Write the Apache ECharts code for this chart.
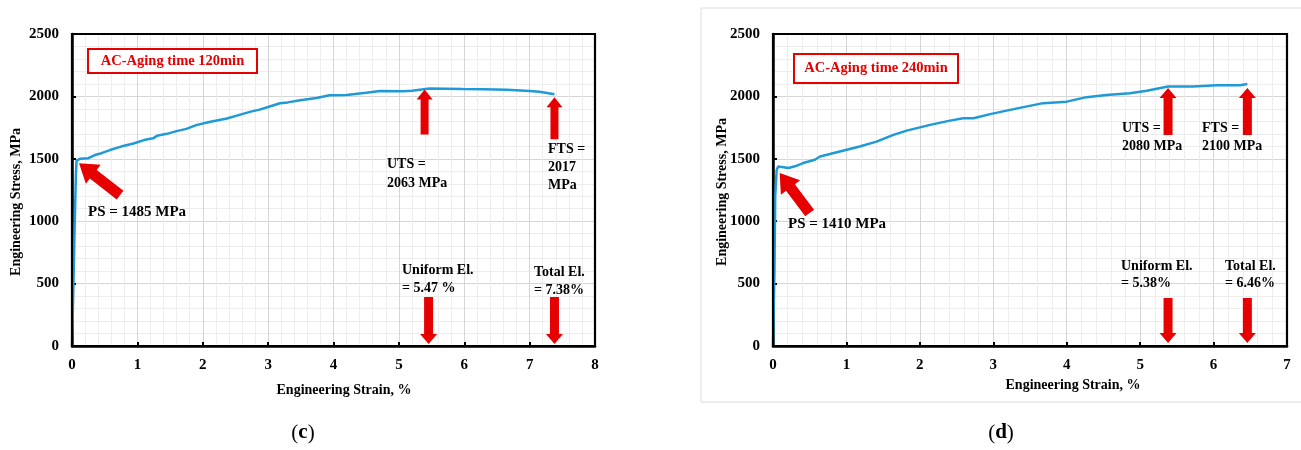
<!DOCTYPE html>
<html>
<head>
<meta charset="utf-8">
<script src="https://cdn.jsdelivr.net/npm/echarts@6/dist/echarts.min.js"></script>
<style>
  html, body { margin: 0; padding: 0; background: #fff; }
  #chart { width: 1301px; height: 450px; }
</style>
</head>
<body>
<div id="chart"></div>
<script>
// Panel (c): AC-aging time 120 min, engineering stress-strain curve
const cStrain = [0, 0.02, 0.04, 0.06, 0.07, 0.12, 0.25, 0.35, 0.45, 0.58, 0.75, 0.94, 1.1, 1.24, 1.3, 1.45, 1.6, 1.75, 1.9, 2.1, 2.37, 2.6, 2.75, 2.87, 3.0, 3.18, 3.3, 3.49, 3.74, 3.94, 4.2, 4.5, 4.71, 5.07, 5.2, 5.47, 5.98, 6.3, 6.65, 7.0, 7.15, 7.38];
const cStress = [0, 450, 950, 1380, 1485, 1500, 1505, 1530, 1545, 1570, 1598, 1623, 1650, 1664, 1684, 1700, 1722, 1740, 1770, 1795, 1823, 1858, 1880, 1894, 1915, 1945, 1952, 1969, 1987, 2009, 2012, 2030, 2043, 2041, 2045, 2063, 2059, 2058, 2054, 2043, 2038, 2017];
const cPSStrain = 0.07;
const cPS = 1485;
const cUTS = 2063;
const cFTS = 2017;
const cUniformEl = 5.47;
const cTotalEl = 7.38;

// Panel (d): AC-aging time 240 min
const dStrain = [0, 0.02, 0.03, 0.05, 0.07, 0.12, 0.21, 0.3, 0.41, 0.57, 0.64, 0.91, 1.18, 1.41, 1.64, 1.82, 2.14, 2.41, 2.59, 2.73, 2.96, 3.18, 3.41, 3.68, 4.0, 4.27, 4.54, 4.86, 5.09, 5.38, 5.72, 6.04, 6.36, 6.46];
const dStress = [0, 600, 1200, 1410, 1438, 1435, 1426, 1440, 1466, 1492, 1518, 1558, 1598, 1638, 1692, 1726, 1772, 1806, 1825, 1825, 1858, 1886, 1914, 1946, 1958, 1994, 2012, 2026, 2046, 2080, 2080, 2089, 2090, 2100];
const dPSStrain = 0.05;
const dPS = 1410;
const dUTS = 2080;
const dFTS = 2100;
const dUniformEl = 5.38;
const dTotalEl = 6.46;

// Axis ranges
const stressMax = 2500;
const stressStep = 500;
const cStrainMax = 8;
const dStrainMax = 7;

const SERIF = '"Liberation Serif", "Times New Roman", serif';
const RED = '#e60000';
const CURVE = '#1f9ad8';

const chart = echarts.init(document.getElementById('chart'), null, { renderer: 'canvas' });

function pairs(xs, ys) { return xs.map((x, i) => [x, ys[i]]); }
const plain = v => String(v);

function xAxisFor(gridIndex, max) {
  return {
    gridIndex, type: 'value', min: 0, max, interval: 1,
    axisLine: { show: true, onZero: false, lineStyle: { color: '#000', width: 2.5 } },
    axisTick: { show: true, inside: true, length: 4, lineStyle: { color: '#000', width: 2 } },
    axisLabel: { color: '#000', fontFamily: SERIF, fontWeight: 'bold', fontSize: 15, margin: 12, formatter: plain },
    splitLine: { show: true, lineStyle: { color: '#d6d6d6', width: 1 } },
    minorTick: { show: false, splitNumber: 5 },
    minorSplitLine: { show: true, lineStyle: { color: '#ededed', width: 1 } }
  };
}
function yAxisFor(gridIndex) {
  return {
    gridIndex, type: 'value', min: 0, max: stressMax, interval: stressStep,
    axisLine: { show: true, onZero: false, lineStyle: { color: '#000', width: 2.5 } },
    axisTick: { show: true, inside: true, length: 4, lineStyle: { color: '#000', width: 2 } },
    axisLabel: { color: '#000', fontFamily: SERIF, fontWeight: 'bold', fontSize: 15, margin: 13, formatter: plain },
    splitLine: { show: true, lineStyle: { color: '#d6d6d6', width: 1 } },
    minorTick: { show: false, splitNumber: 5 },
    minorSplitLine: { show: true, lineStyle: { color: '#ededed', width: 1 } }
  };
}

chart.setOption({
  animation: false,
  backgroundColor: '#fff',
  grid: [
    { left: 72, top: 34, width: 523, height: 312 },
    { left: 773, top: 34, width: 514, height: 312 }
  ],
  xAxis: [xAxisFor(0, cStrainMax), xAxisFor(1, dStrainMax)],
  yAxis: [yAxisFor(0), yAxisFor(1)],
  series: [
    { type: 'line', xAxisIndex: 0, yAxisIndex: 0, data: pairs(cStrain, cStress), showSymbol: false, smooth: false,
      lineStyle: { color: CURVE, width: 2.5 }, z: 3 },
    { type: 'line', xAxisIndex: 1, yAxisIndex: 1, data: pairs(dStrain, dStress), showSymbol: false, smooth: false,
      lineStyle: { color: CURVE, width: 2.5 }, z: 3 }
  ]
});

// Block arrow polygon: tip point, direction (unit vector from tip toward tail)
function arrow(tip, dir, len, shaft, head, headLen) {
  const [tx, ty] = tip;
  const [dx, dy] = dir;
  const nx = -dy, ny = dx;
  const bx = tx + dx * headLen, by = ty + dy * headLen;
  const ex = tx + dx * len, ey = ty + dy * len;
  return {
    type: 'polygon', z: 10, silent: true,
    shape: { points: [
      [tx, ty],
      [bx + nx * head / 2, by + ny * head / 2],
      [bx + nx * shaft / 2, by + ny * shaft / 2],
      [ex + nx * shaft / 2, ey + ny * shaft / 2],
      [ex - nx * shaft / 2, ey - ny * shaft / 2],
      [bx - nx * shaft / 2, by - ny * shaft / 2],
      [bx - nx * head / 2, by - ny * head / 2]
    ] },
    style: { fill: RED }
  };
}
function px(grid, pt) { return chart.convertToPixel({ gridIndex: grid }, pt); }
function shift(p, dx, dy) { return [p[0] + dx, p[1] + dy]; }
function norm(x, y) { const l = Math.hypot(x, y); return [x / l, y / l]; }

// Black frame around a plot area, from its axis extents
function frame(grid, xMax) {
  const a = px(grid, [0, stressMax]);
  const b = px(grid, [xMax, 0]);
  return { type: 'rect', z: 9, silent: true,
    shape: { x: a[0], y: a[1], width: b[0] - a[0], height: b[1] - a[1] },
    style: { fill: 'none', stroke: '#000', lineWidth: 2.2 } };
}

function label(text, x, y, size, opts) {
  return Object.assign({
    type: 'text', z: 12, silent: true, x, y,
    style: { text, fill: '#000', fontFamily: SERIF, fontWeight: 'bold', fontSize: size || 14, verticalAlign: 'middle', align: 'left' }
  }, opts || {});
}

const g = [];
// Panel frame around (d)
g.push({ type: 'rect', z: 0, silent: true, shape: { x: 701, y: 8, width: 640, height: 394 },
  style: { fill: 'none', stroke: '#dcdcdc', lineWidth: 1 } });

g.push(frame(0, cStrainMax));
g.push(frame(1, dStrainMax));

// Arrows for (c)
g.push(arrow(shift(px(0, [cPSStrain, cPS]), 2.5, 2.5), norm(41, 32), 52, 11, 24, 18));
g.push(arrow(shift(px(0, [cUniformEl, cUTS]), -5, 1), [0, 1], 45, 8, 16, 10));
g.push(arrow(shift(px(0, [cTotalEl, cFTS]), 0, 3), [0, 1], 42, 8, 16, 10));
g.push(arrow(shift(px(0, [cUniformEl, 0]), -1, -2), [0, -1], 47, 9, 17, 10));
g.push(arrow(shift(px(0, [cTotalEl, 0]), 0, -2), [0, -1], 47, 9, 17, 10));

// Arrows for (d)
g.push(arrow(shift(px(1, [dPSStrain, dPS]), 3, 3), norm(30, 40), 50, 11, 24, 18));
g.push(arrow(shift(px(1, [dUniformEl, dUTS]), 0, 1.5), [0, 1], 47, 9, 17, 10));
g.push(arrow(shift(px(1, [dTotalEl, dFTS]), 0, 4), [0, 1], 47, 9, 17, 10));
g.push(arrow(shift(px(1, [dUniformEl, 0]), 0, -3), [0, -1], 45, 9, 17, 10));
g.push(arrow(shift(px(1, [dTotalEl, 0]), 0, -3), [0, -1], 45, 9, 17, 10));

// Title boxes
g.push({ type: 'rect', z: 11, silent: true, shape: { x: 88, y: 49, width: 169, height: 24 },
  style: { fill: '#fff', stroke: RED, lineWidth: 2 } });
g.push(label('AC-Aging time 120min', 172.5, 61.5, 14, { style: { text: 'AC-Aging time 120min', fill: RED, fontFamily: SERIF, fontWeight: 'bold', fontSize: 14.5, align: 'center', verticalAlign: 'middle' } }));
g.push({ type: 'rect', z: 11, silent: true, shape: { x: 794, y: 54, width: 164, height: 29 },
  style: { fill: '#fff', stroke: RED, lineWidth: 2 } });
g.push(label('AC-Aging time 240min', 876, 68.5, 14, { style: { text: 'AC-Aging time 240min', fill: RED, fontFamily: SERIF, fontWeight: 'bold', fontSize: 14.5, align: 'center', verticalAlign: 'middle' } }));

// Annotations (c)
g.push(label('PS = ' + cPS + ' MPa', 88, 212, 15));
g.push(label('UTS =', 387, 164, 14));
g.push(label(cUTS + ' MPa', 387, 183, 14));
g.push(label('FTS =', 548, 149, 14));
g.push(label(String(cFTS), 548, 167, 14));
g.push(label('MPa', 548, 185, 14));
g.push(label('Uniform El.', 402, 270, 14));
g.push(label('= ' + cUniformEl + ' %', 402, 288, 14));
g.push(label('Total El.', 534, 272, 14));
g.push(label('= ' + cTotalEl + '%', 534, 290, 14));

// Annotations (d)
g.push(label('PS = ' + dPS + ' MPa', 788, 224, 15));
g.push(label('UTS =', 1122, 128, 14));
g.push(label(dUTS + ' MPa', 1122, 146, 14));
g.push(label('FTS =', 1202, 128, 14));
g.push(label(dFTS + ' MPa', 1202, 146, 14));
g.push(label('Uniform El.', 1121, 266, 14));
g.push(label('= ' + dUniformEl + '%', 1121, 283, 14));
g.push(label('Total El.', 1225, 266, 14));
g.push(label('= ' + dTotalEl + '%', 1225, 283, 14));

// Axis names
function axisName(text, x, y, rotate) {
  return { type: 'text', z: 12, silent: true, x, y, rotation: rotate ? Math.PI / 2 : 0,
    style: { text, fill: '#000', fontFamily: SERIF, fontWeight: 'bold', fontSize: 14, align: 'center', verticalAlign: 'middle' } };
}
g.push(axisName('Engineering Strain, %', 344, 390, false));
g.push(axisName('Engineering Strain, %', 1073, 385, false));
g.push(axisName('Engineering Stress, MPa', 16, 202, true));
g.push(axisName('Engineering Stress, MPa', 722, 192, true));

// Panel captions
function caption(letter, x, y) {
  return { type: 'text', z: 12, silent: true, x, y,
    style: { text: '{n|(}{b|' + letter + '}{n|)}', align: 'center', verticalAlign: 'middle',
      rich: {
        n: { fontFamily: SERIF, fontSize: 21, fill: '#000' },
        b: { fontFamily: SERIF, fontSize: 21, fontWeight: 'bold', fill: '#000' }
      } } };
}
g.push(caption('c', 303, 433));
g.push(caption('d', 1001, 433));

chart.setOption({ graphic: g });
</script>
</body>
</html>
